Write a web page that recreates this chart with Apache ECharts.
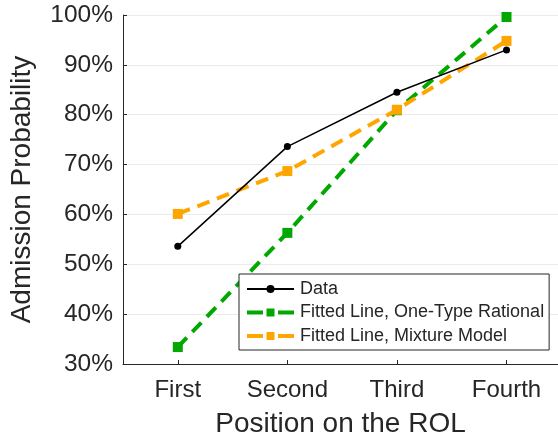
<!DOCTYPE html>
<html>
<head>
<meta charset="utf-8">
<script src="https://cdn.jsdelivr.net/npm/echarts@6/dist/echarts.min.js"></script>
<style>
  html, body { margin: 0; padding: 0; background: #fff; }
  #chart { width: 558px; height: 443px; }
</style>
</head>
<body>
<div id="chart"></div>
<script>
// Positions on the rank-order list
const positions = ['First', 'Second', 'Third', 'Fourth'];
// Admission probability (%)
const observed = [53.6, 73.6, 84.5, 93.0];
const oneTypeRational = [33.4, 56.3, 80.9, 99.6];
const mixtureModel = [60.1, 68.7, 81.0, 94.8];
const yTicks = [30, 40, 50, 60, 70, 80, 90, 100];

const FONT = 'Arial, "Liberation Sans", Helvetica, sans-serif';
const INK = '#262626';
const GREEN = '#00a800';
const ORANGE = '#ffa500';

// Pair each value with its 1-based position on the list
const toPoints = vals => vals.map((v, i) => [i + 1, v]);
const positionIndex = positions.map((_, i) => i + 1);

// Legend swatch for the fitted lines: long dash, marker, long dash
const fittedSwatch = { type: [16, 15], width: 4 };

const chart = echarts.init(document.getElementById('chart'), null, { renderer: 'canvas' });

chart.setOption({
  animation: false,
  backgroundColor: '#ffffff',
  grid: { left: 121, top: 15, right: 0, height: 350, containLabel: false },
  xAxis: {
    type: 'value',
    min: 0.5,
    max: 4.47,
    name: 'Position on the ROL',
    nameLocation: 'middle',
    nameGap: 46,
    nameTextStyle: { fontFamily: FONT, fontSize: 28, color: INK },
    axisLine: { show: true, onZero: false, lineStyle: { color: INK, width: 1 } },
    axisTick: { show: true, inside: true, length: 4, customValues: positionIndex, lineStyle: { color: INK } },
    axisLabel: {
      fontFamily: FONT, fontSize: 24, color: INK, margin: 14,
      customValues: positionIndex,
      formatter: v => positions[Math.round(v) - 1] || ''
    },
    splitLine: { show: false }
  },
  yAxis: {
    type: 'value',
    min: yTicks[0],
    max: yTicks[yTicks.length - 1],
    interval: 10,
    name: 'Admission Probability',
    nameLocation: 'middle',
    nameGap: 87,
    nameTextStyle: { fontFamily: FONT, fontSize: 28, color: INK },
    axisLine: { show: true, onZero: false, lineStyle: { color: INK, width: 1 } },
    axisTick: { show: true, inside: true, length: 4, lineStyle: { color: INK } },
    axisLabel: { fontFamily: FONT, fontSize: 24.5, color: INK, margin: 10, formatter: v => v + '%' },
    splitLine: { show: true, lineStyle: { color: '#ebebeb', width: 1 } }
  },
  legend: {
    orient: 'vertical',
    left: 239,
    top: 274,
    padding: [6, 5, 5, 6],
    itemGap: 5.5,
    itemWidth: 47,
    itemHeight: 10,
    backgroundColor: '#ffffff',
    borderColor: INK,
    borderWidth: 1,
    borderRadius: 0,
    textStyle: { fontFamily: FONT, fontSize: 18, lineHeight: 18, color: INK, padding: [0, 0, 0, 1] },
    data: [
      { name: 'Data' },
      { name: 'Fitted Line, One-Type Rational', lineStyle: fittedSwatch },
      { name: 'Fitted Line, Mixture Model', lineStyle: fittedSwatch }
    ]
  },
  series: [
    {
      name: 'Fitted Line, One-Type Rational',
      type: 'line',
      data: toPoints(oneTypeRational),
      z: 2,
      symbol: 'rect',
      symbolSize: 10,
      itemStyle: { color: GREEN },
      lineStyle: { color: GREEN, width: 4, type: [13, 8] }
    },
    {
      name: 'Fitted Line, Mixture Model',
      type: 'line',
      data: toPoints(mixtureModel),
      z: 3,
      symbol: 'rect',
      symbolSize: 10,
      itemStyle: { color: ORANGE },
      lineStyle: { color: ORANGE, width: 4, type: [13, 8] }
    },
    {
      name: 'Data',
      type: 'line',
      data: toPoints(observed),
      z: 4,
      symbol: 'circle',
      symbolSize: 7,
      itemStyle: { color: '#000000' },
      lineStyle: { color: '#000000', width: 1.5 }
    }
  ]
});
</script>
</body>
</html>
